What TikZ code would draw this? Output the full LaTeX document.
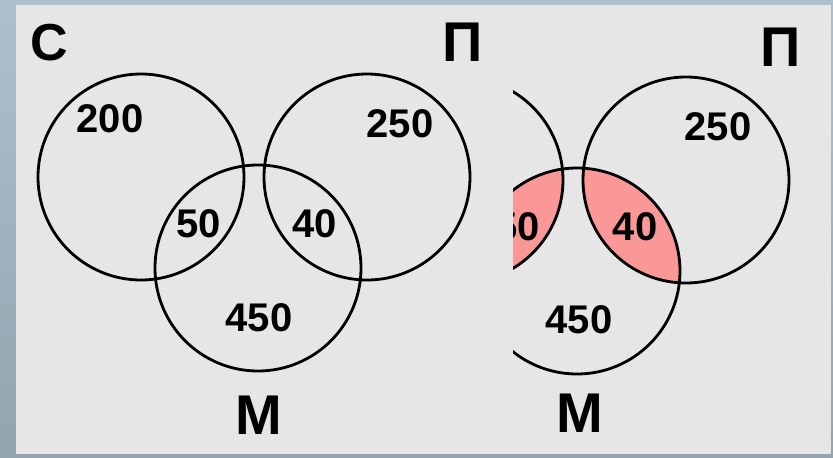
\documentclass[tikz,border=0pt]{standalone}
\usepackage{fontspec}
\setmainfont{Liberation Sans}
\definecolor{bgtop}{RGB}{172,192,206}
\definecolor{bgbot}{RGB}{148,164,174}
\definecolor{panel}{RGB}{230,230,230}
\definecolor{lenspink}{RGB}{250,152,152}
\begin{document}
\begin{tikzpicture}[x=1pt,y=-1pt,
  ring/.style={line width=2.8pt, draw=black},
  lens/.style={fill=lenspink},
  big/.style={font=\fontsize{56}{56}\selectfont\bfseries, inner sep=0pt},
  num/.style={font=\fontsize{40}{40}\selectfont\bfseries, inner sep=0pt}]
\useasboundingbox (0,0) rectangle (833,458);
\shade[top color=bgtop, bottom color=bgbot] (0,0) rectangle (833,458);
\fill[panel] (16,5) rectangle (831,454);

% left diagram
\draw[ring] (141,177) circle[radius=103];
\draw[ring] (367,177) circle[radius=103];
\draw[ring] (258,268) circle[radius=103];
\node[big, font=\fontsize{52}{52}\selectfont\bfseries] (lC) at (49,43) {С};
\node[big] (lP) at (463,42) {П};
\node[big] (lM) at (259,415) {М};
\node[num] (n200) at (110,119) {200};
\node[num] (n250) at (400,124) {250};
\node[num] (n50) at (199,224) {50};
\node[num] (n40) at (315,224) {40};
\node[num] (n450) at (259,318) {450};

% right diagram
\begin{scope}
  \clip (513,5) rectangle (831,454);
  \begin{scope}[shift={(319,3)}]
    \begin{scope}
      \clip (258,268) circle[radius=103];
      \fill[lens] (141,177) circle[radius=103];
      \fill[lens] (367,177) circle[radius=103];
    \end{scope}
    \draw[ring] (141,177) circle[radius=103];
    \draw[ring] (367,177) circle[radius=103];
    \draw[ring] (258,268) circle[radius=103];
    \node[num] (r50) at (199,224) {50};
  \end{scope}
\end{scope}
\node[big] (rP) at (781,47) {П};
\node[big] (rM) at (580,413) {М};
\node[num] (r250) at (718,127) {250};
\node[num] (r40) at (635,227) {40};
\node[num] (r450) at (579,320) {450};
\end{tikzpicture}
\end{document}
